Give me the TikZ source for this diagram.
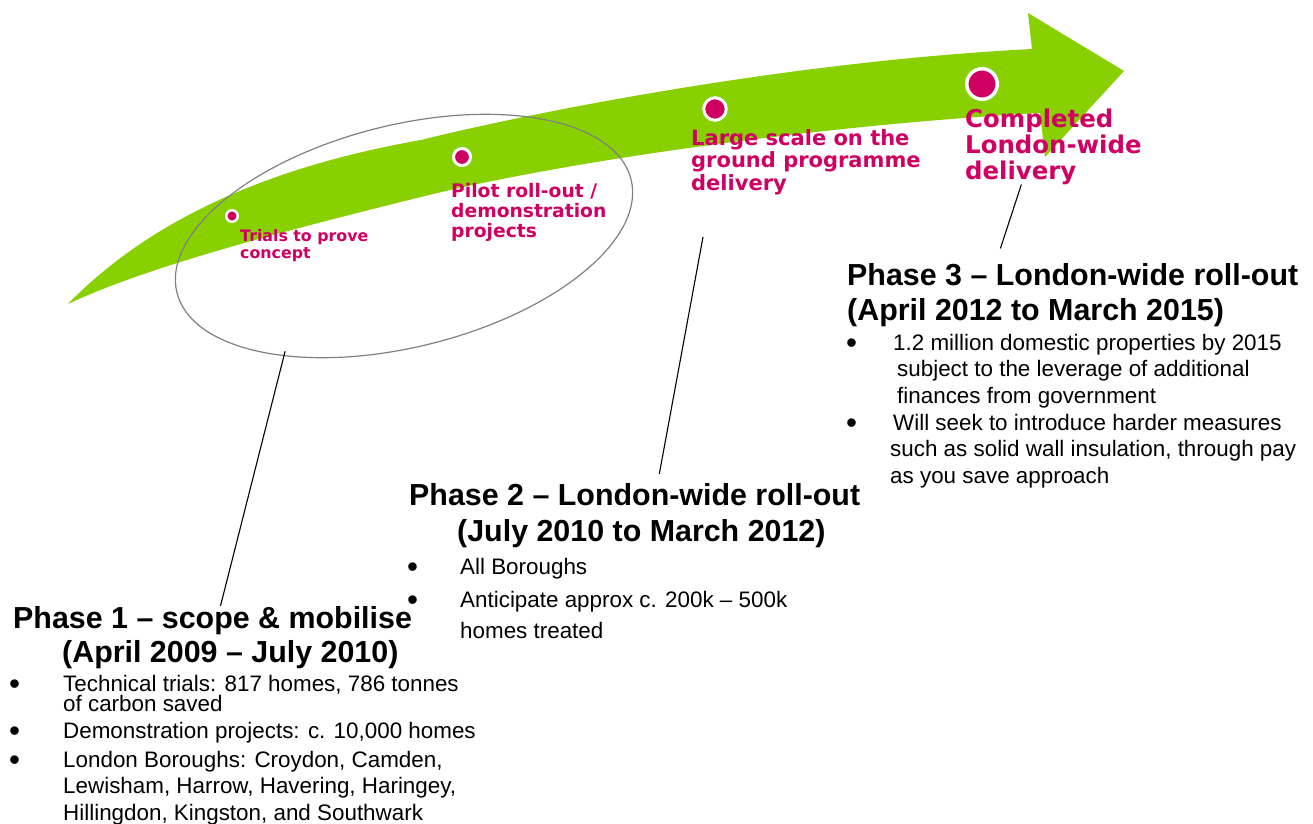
\documentclass[tikz,border=0pt]{standalone}
\usepackage{fontspec}
\setmainfont{Liberation Sans}
\newfontfamily\tagfont{DejaVu Sans}
\usetikzlibrary{shapes.geometric}

\definecolor{leaf}{RGB}{136,208,0}
\definecolor{berry}{RGB}{208,0,98}
\definecolor{rim}{RGB}{128,128,128}

\newcommand\bul[1]{\makebox[#1][l]{\raisebox{-3pt}{\scalebox{1.4}{\textbullet}}}}

\begin{document}
\begin{tikzpicture}[x=1pt, y=-1pt,
    title/.style={anchor=base west, align=left, inner sep=0pt,
      font=\fontsize{30.4}{35}\selectfont\bfseries},
    item/.style={anchor=base west, align=left, inner sep=0pt,
      font=\fontsize{22.4}{26.5}\selectfont},
    tag/.style={anchor=base west, align=left, inner sep=0pt, text=berry},
    dot/.style={circle, fill=berry, draw=white, inner sep=0pt},
    leader/.style={draw=black, line width=1.1pt}]

\useasboundingbox (0,0) rectangle (1313,823);

% the big arrow
\fill[leaf] (68,304) .. controls (140,230) and (250,170) .. (421,140)
  .. controls (521,115) and (780,62) .. (1032,49) -- (1028,13) -- (1124,71)
  -- (1045,157) -- (1040,113) .. controls (820,125) and (560,162) .. (421,197)
  .. controls (300,227) and (150,265) .. (68,304) -- cycle;

% phase 1 ring
\node[ellipse, draw=rim, line width=1.2pt, minimum width=468pt,
  minimum height=222pt, rotate=14] (oval) at (404,236) {};

% milestones
\node[dot, minimum size=11.5pt, line width=2.5pt] (trialsdot) at (232,216) {};
\node[dot, minimum size=17pt, line width=3pt] (pilotdot) at (462,157) {};
\node[dot, minimum size=22.5pt, line width=3pt] (largedot) at (715,109) {};
\node[dot, minimum size=30.5pt, line width=3.5pt] (donedot) at (982,84) {};

% tags (placed on the baseline of their last line)
\node[tag, font=\tagfont\bfseries\fontsize{15.8}{17}\selectfont] (trials) at (240,258)
  {Trials to prove\\concept};
\node[tag, font=\tagfont\bfseries\fontsize{18.7}{20}\selectfont] (pilot) at (451,237)
  {Pilot roll-out /\\demonstration\\projects};
\node[tag, font=\tagfont\bfseries\fontsize{21}{22.5}\selectfont] (large) at (691,190)
  {Large scale on the\\ground programme\\delivery};
\node[tag, font=\tagfont\bfseries\fontsize{24.4}{26}\selectfont] (done) at (965,179)
  {Completed\\London-wide\\delivery};

% phase 1
\node[title, font=\fontsize{30.4}{34}\selectfont\bfseries] (ph1) at (13,662)
  {Phase 1 – scope \& mobilise\\\hspace*{49pt}(April 2009 – July 2010)};
\node[item, font=\fontsize{22.4}{20}\selectfont] (ph1a) at (9,711)
  {\bul{54pt}Technical trials: 817 homes, 786 tonnes\\\hspace*{54pt}of carbon saved};
\node[item] (ph1b) at (9,738) {\bul{54pt}Demonstration projects: c. 10,000 homes};
\node[item] (ph1c) at (9,820)
  {\bul{54pt}London Boroughs: Croydon, Camden,\\\hspace*{54pt}Lewisham, Harrow, Havering, Haringey,\\\hspace*{54pt}Hillingdon, Kingston, and Southwark};

% phase 2
\node[title, font=\fontsize{30.4}{36}\selectfont\bfseries] (ph2) at (409,541)
  {Phase 2 – London-wide roll-out\\\hspace*{48pt}(July 2010 to March 2012)};
\node[item] (ph2a) at (407,574) {\bul{53pt}All Boroughs};
\node[item, font=\fontsize{22.4}{31}\selectfont] (ph2b) at (407,638)
  {\bul{53pt}Anticipate approx c. 200k – 500k\\\hspace*{53pt}homes treated};

% phase 3
\node[title] (ph3) at (847,320)
  {Phase 3 – London-wide roll-out\\(April 2012 to March 2015)};
\node[item] (ph3a) at (846,403)
  {\bul{47pt}1.2 million domestic properties by 2015\\\hspace*{51pt}subject to the leverage of additional\\\hspace*{51pt}finances from government};
\node[item] (ph3b) at (846,483)
  {\bul{47pt}Will seek to introduce harder measures\\\hspace*{44pt}such as solid wall insulation, through pay\\\hspace*{44pt}as you save approach};

% leaders
\coordinate (o2) at (703,237);
\draw[leader, shorten <=-5pt] (oval.211) -- (ph1);
\draw[leader, shorten >=9pt] (o2) -- ([xshift=23pt]ph2.north);
\draw[leader, shorten >=15pt] ([xshift=-32pt]done.south) -- ([xshift=-77pt]ph3.north);
\end{tikzpicture}
\end{document}
